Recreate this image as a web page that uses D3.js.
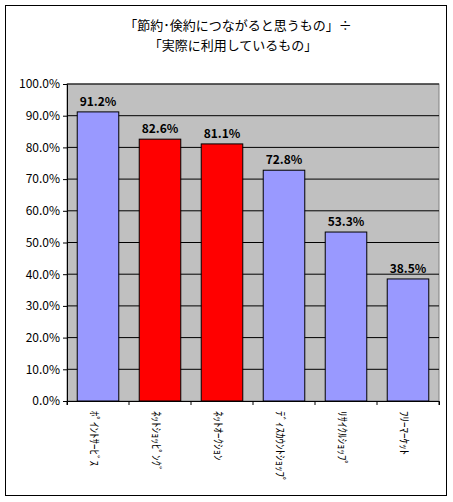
<!DOCTYPE html>
<html><head><meta charset="utf-8">
<script src="https://cdn.jsdelivr.net/npm/d3@7"></script>
<style>body{margin:0;background:#fff}text{font-family:"Noto Sans CJK JP",sans-serif}</style>
</head><body><svg id="c" width="453" height="502"></svg>
<script>
const categories = ["ﾎﾟｲﾝﾄｻｰﾋﾞｽ","ﾈｯﾄｼｮｯﾋﾟﾝｸﾞ","ﾈｯﾄｵｰｸｼｮﾝ","ﾃﾞｨｽｶｳﾝﾄｼｮｯﾌﾟ","ﾘｻｲｸﾙｼｮｯﾌﾟ","ﾌﾘｰﾏｰｹｯﾄ"];
const values = [91.2, 82.6, 81.1, 72.8, 53.3, 38.5];
const highlight = [false, true, true, false, false, false];
const ticks = d3.range(0, 101, 10);

const svg = d3.select("#c");
svg.append("rect").attr("x",5.5).attr("y",5.5).attr("width",441).attr("height",490).attr("fill","#fff").attr("stroke","#000");
svg.append("text").attr("x",238).attr("y",30).attr("text-anchor","middle").attr("font-size",13).text("「節約･倹約につながると思うもの」÷");
svg.append("text").attr("x",233).attr("y",50).attr("text-anchor","middle").attr("font-size",13).text("「実際に利用しているもの」");

const L=67,R=439,T=84,B=401;
const x=d3.scaleBand().domain(categories).range([L,R]).paddingInner(0.33).paddingOuter(0.165);
const y=d3.scaleLinear().domain([0,100]).range([B,T]);
svg.append("rect").attr("x",L).attr("y",T).attr("width",R-L).attr("height",B-T).attr("fill","#c0c0c0").attr("stroke","#808080");
svg.append("g").selectAll("line").data(ticks.slice(1)).join("line")
  .attr("x1",L).attr("x2",R).attr("y1",d=>y(d)).attr("y2",d=>y(d)).attr("stroke","#000");
const ax=svg.append("g").attr("transform",`translate(${L},0)`).call(d3.axisLeft(y).tickValues(ticks).tickSize(4).tickFormat(d=>d.toFixed(1)+"%"));
ax.select(".domain").attr("stroke","#000");
ax.selectAll("text").attr("font-family","Liberation Sans, sans-serif").attr("font-size",12).attr("fill","#000");
svg.append("g").attr("transform",`translate(0,${B})`).call(d3.axisBottom(x.copy().paddingInner(0).paddingOuter(0)).tickSize(4).tickFormat(""))
  .call(g=>{g.select(".domain").attr("stroke","#000");g.selectAll(".tick").remove();})
  .call(g=>g.selectAll("t").data(d3.range(categories.length+1)).join("line")
    .attr("x1",i=>L+i*(R-L)/categories.length).attr("x2",i=>L+i*(R-L)/categories.length).attr("y1",0).attr("y2",4).attr("stroke","#000"));
svg.append("g").selectAll("rect").data(categories).join("rect")
  .attr("x",d=>x(d)).attr("width",x.bandwidth()).attr("y",(d,i)=>y(values[i])).attr("height",(d,i)=>B-y(values[i]))
  .attr("fill",(d,i)=>highlight[i]?"#ff0000":"#9999ff").attr("stroke","#000");
svg.append("g").selectAll("text").data(categories).join("text")
  .attr("x",d=>x(d)+x.bandwidth()/2).attr("y",(d,i)=>y(values[i])-6).attr("text-anchor","middle")
  .attr("font-family","Liberation Sans, sans-serif").attr("font-weight","bold").attr("font-size",12)
  .text((d,i)=>values[i].toFixed(1)+"%");
svg.append("g").selectAll("text").data(categories).join("text")
  .attr("transform",d=>`translate(${x(d)+x.bandwidth()/2-5},${B+10}) rotate(90)`)
  .attr("font-size",11).attr("dominant-baseline","middle").text(d=>d);
</script></body></html>
